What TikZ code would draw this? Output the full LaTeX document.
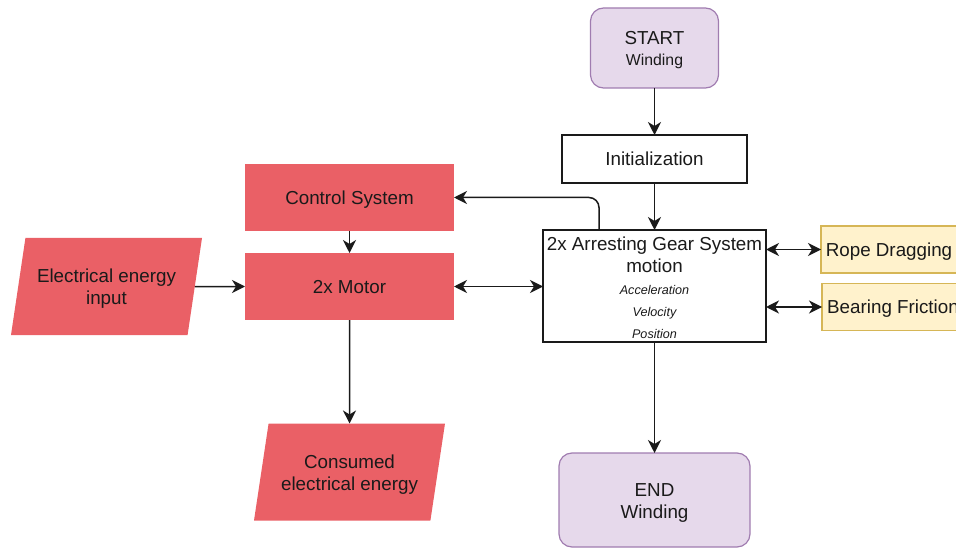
\documentclass[tikz,border=0pt]{standalone}
\usepackage{fontspec}
\setmainfont{Liberation Sans}
\usetikzlibrary{arrows.meta,shapes.geometric}
\definecolor{redf}{HTML}{EA6066}
\definecolor{purf}{HTML}{E6D9EB}
\definecolor{purs}{HTML}{A07CB0}
\definecolor{yelf}{HTML}{FFF2CC}
\definecolor{yels}{HTML}{D6B656}
\definecolor{linec}{HTML}{1A1A1A}
\definecolor{txt}{HTML}{1A1A1A}
\newcommand{\upstrut}[1]{\rule{0pt}{#1}}
\begin{document}
\begin{tikzpicture}[x=1pt,y=-1pt,
  base/.style={inner sep=0pt, outer sep=0pt, text=txt, align=center, font=\fontsize{18.8}{22}\selectfont},
  one/.style={text height=15.5pt, text depth=2pt},
  rbox/.style={base, rectangle, fill=redf, minimum width=209pt, minimum height=67pt},
  para/.style={base, trapezium, trapezium left angle=72, trapezium right angle=108,
               trapezium stretches body=true, fill=redf, minimum width=191pt, minimum height=97pt},
  wbox/.style={base, rectangle, draw=linec, line width=1.4pt, fill=white},
  term/.style={base, rectangle, rounded corners=13pt, fill=purf, draw=purs, line width=1.2pt},
  ybox/.style={base, one, rectangle, fill=yelf, draw=yels, line width=1.2pt, minimum height=47pt},
  tip/.tip={Stealth[length=13pt,width=13pt,inset=4pt]},
  conn/.style={draw=linec, line width=1.5pt, -tip},
  biconn/.style={draw=linec, line width=1.5pt, tip-tip}
]
\useasboundingbox (0,0) rectangle (956,548);

\node[term, minimum width=128pt, minimum height=80pt] (start) at (654.5,48)
  {\upstrut{17.5pt}START\\[-1pt]{\fontsize{15.8}{20}\selectfont Winding}};
\node[wbox, one, minimum width=185pt, minimum height=48pt] (init) at (654.5,159) {Initialization};
\node[wbox, minimum width=223pt, minimum height=112pt] (arr) at (654.5,286)
  {\upstrut{18pt}2x Arresting Gear System\\ motion\\ {\fontsize{12.6}{22}\selectfont\itshape Acceleration}\\
   {\fontsize{12.6}{22}\selectfont\itshape Velocity}\\ {\fontsize{12.6}{22}\selectfont\itshape Position}};
\node[term, minimum width=191pt, minimum height=94pt] (end) at (654.5,500) {\upstrut{19pt}END\\ Winding};

\node[ybox, minimum width=136pt] (rope) at (889,249.5) {Rope Dragging};
\node[ybox, minimum width=142pt] (bear) at (893,307) {Bearing Friction};

\node[rbox, one] (ctrl) at (349.5,197.5) {Control System};
\node[rbox, one] (motor) at (349.5,286.5) {2x Motor};
\node[para] (elec) at (106.5,286.5) {\upstrut{18.5pt}Electrical energy\\ input};
\node[para] (cons) at (349.5,472) {\upstrut{19pt}Consumed\\ electrical energy};

\draw[conn] (start) -- (init);
\draw[conn] (init) -- (arr);
\draw[conn] (arr) -- (end);
\draw[conn] (ctrl) -- (motor);
\draw[conn] (motor) -- (cons);
\draw[conn] (elec) -- (motor);
\draw[biconn] (motor) -- (arr.west |- motor);
\draw[biconn] (arr.east |- rope) -- (rope);
\draw[biconn] (arr.east |- bear) -- (bear);
\draw[conn, rounded corners=10pt] (arr.north -| 599,0) |- (ctrl.east);
\end{tikzpicture}
\end{document}
